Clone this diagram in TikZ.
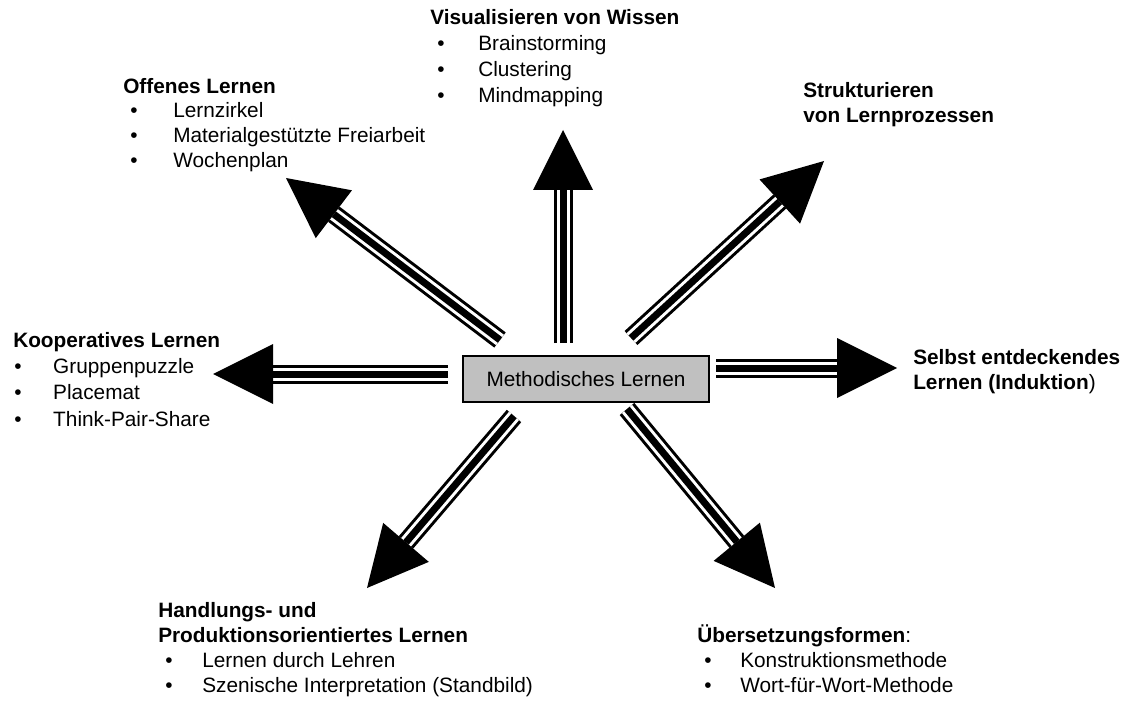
\documentclass[tikz,border=0pt]{standalone}
\usepackage{fontspec}
\setmainfont{Liberation Sans}
\usetikzlibrary{calc}
\newcommand\litem[3]{\makebox[#2][l]{\hspace*{#1}\textbullet}#3}
\newcommand\tarrow[2]{%
  \coordinate (#1b) at ($(#2)!45pt!(#1)$);
  \draw[line width=14.25pt] (#1) -- (#1b);
  \draw[white,line width=9.75pt] (#1) -- (#1b);
  \draw[line width=5.25pt] (#1) -- (#1b);
  \fill ($(#1b)!22.5pt!90:(#2)$) -- (#2) -- ($(#1b)!22.5pt!-90:(#2)$) -- cycle;
}
\tikzset{
  txt/.style={anchor=north west, inner sep=0pt, align=left},
  fnt/.style={font=\fontsize{15.6}{#1}\selectfont},
  centerbox/.style={draw, line width=1.2pt, fill=boxgray, minimum width=184.5pt,
    minimum height=34.5pt, inner sep=0pt, font=\fontsize{15.6}{18.5}\selectfont}
}
\definecolor{boxgray}{HTML}{C0C0C0}
\begin{document}
\begin{tikzpicture}[x=0.75pt,y=-0.75pt]
\useasboundingbox (0,0) rectangle (1142,702);
% centre
\node[centerbox] (m) at (586,379) {Methodisches Lernen};
% arrow ends
\coordinate (s1) at (563,343);  \coordinate (t1) at (563,130);
\coordinate (s2) at (500,340);  \coordinate (t2) at (286,178);
\coordinate (s3) at (631,338);  \coordinate (t3) at (824,161);
\coordinate (s4) at (448,374);  \coordinate (t4) at (213,374);
\coordinate (s5) at (716,368);  \coordinate (t5) at (897,368);
\coordinate (s6) at (514,416);  \coordinate (t6) at (367,588);
\coordinate (s7) at (627,409);  \coordinate (t7) at (775,588);
\tarrow{s1}{t1}
\tarrow{s2}{t2}
\tarrow{s3}{t3}
\tarrow{s4}{t4}
\tarrow{s5}{t5}
\tarrow{s6}{t6}
\tarrow{s7}{t7}
% texts
\node[txt,fnt=19.5pt] (vis) at (430,4) {\rule{0pt}{15pt}\textbf{Visualisieren von Wissen}\\
  \litem{5.25pt}{36pt}{Brainstorming}\\
  \litem{5.25pt}{36pt}{Clustering}\\
  \litem{5.25pt}{36pt}{Mindmapping}};
\node[txt,fnt=18.5pt] (off) at (123,73) {\rule{0pt}{15pt}\textbf{Offenes Lernen}\\
  \litem{5.25pt}{37.5pt}{Lernzirkel}\\
  \litem{5.25pt}{37.5pt}{Materialgestützte Freiarbeit}\\
  \litem{5.25pt}{37.5pt}{Wochenplan}};
\node[txt,fnt=18.75pt] (str) at (803,77) {\rule{0pt}{15pt}\textbf{Strukturieren}\\
  \textbf{von Lernprozessen}};
\node[txt,fnt=19.7pt] (koop) at (13,327) {\rule{0pt}{15pt}\textbf{Kooperatives Lernen}\\
  \litem{0.75pt}{30pt}{Gruppenpuzzle}\\
  \litem{0.75pt}{30pt}{Placemat}\\
  \litem{0.75pt}{30pt}{Think-Pair-Share}};
\node[txt,fnt=18.75pt] (selb) at (913,344) {\rule{0pt}{15pt}\textbf{Selbst entdeckendes}\\
  \textbf{Lernen (Induktion}) };
\node[txt,fnt=18.75pt] (hand) at (158,597) {\rule{0pt}{15pt}\textbf{Handlungs- und}\\
  \textbf{Produktionsorientiertes Lernen}\\
  \litem{5.25pt}{33pt}{Lernen durch Lehren}\\
  \litem{5.25pt}{33pt}{Szenische Interpretation (Standbild)}};
\node[txt,fnt=18.75pt] (ueb) at (697,622) {\rule{0pt}{15pt}\textbf{Übersetzungsformen}:\\
  \litem{5.25pt}{32.25pt}{Konstruktionsmethode}\\
  \litem{5.25pt}{32.25pt}{Wort-für-Wort-Methode}};
\end{tikzpicture}
\end{document}
